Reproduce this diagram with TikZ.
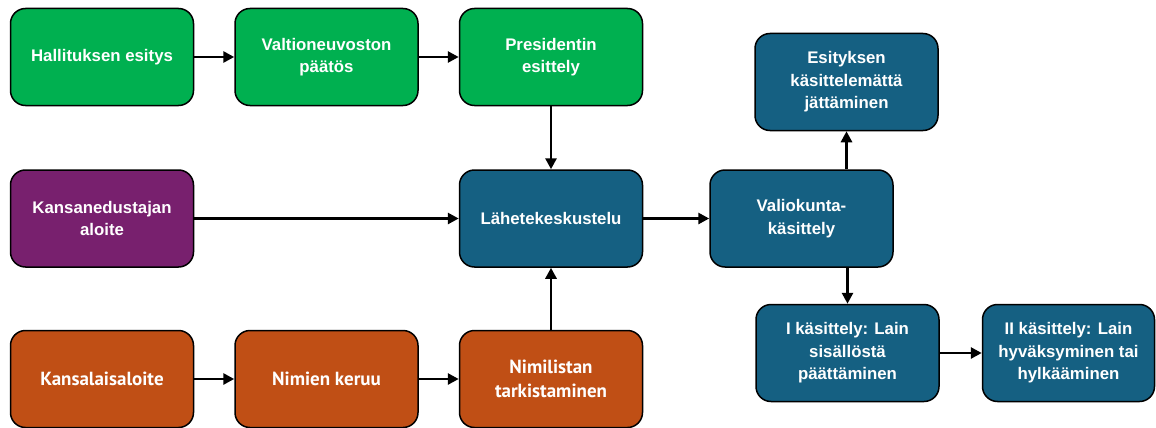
\documentclass[tikz,border=0pt]{standalone}
\usepackage{fontspec}
\setmainfont{Liberation Sans}
\newfontfamily\kapeafont{PT Sans}
\usetikzlibrary{positioning,arrows.meta}
\definecolor{vihrea}{HTML}{00B050}
\definecolor{violetti}{HTML}{78206E}
\definecolor{oranssi}{HTML}{C04F15}
\definecolor{sininen}{HTML}{156082}
\tikzset{
	laatikko/.style={rectangle, rounded corners=15pt, draw=black, line width=1.5pt,
		text=white, font=\bfseries\fontsize{16.8}{22.5}\selectfont,
		minimum width=183pt, minimum height=97pt, align=center},
	hallitus/.style={laatikko, fill=vihrea},
	edustaja/.style={laatikko, fill=violetti},
	kansa/.style={laatikko, fill=oranssi, font=\kapeafont\bfseries\fontsize{19}{24}\selectfont},
	eduskunta/.style={laatikko, fill=sininen},
	nuoli/.style={-{Triangle[length=11pt,width=11pt]}, line width=2.8pt}
}
\begin{document}
\begin{tikzpicture}[node distance=40pt]
			\useasboundingbox (0,0) rectangle (1156pt,-428pt);
			\clip (0,0) rectangle (1156pt,-428pt);
			
			\node[hallitus] (esitys) at (102pt,-57pt) {Hallituksen esitys};
			\node[hallitus, right=of esitys] (paatos) {Valtioneuvoston\\päätös};
			\node[hallitus, right=of paatos] (esittely) {Presidentin\\esittely};
			
			\node[edustaja, below=63pt of esitys] (kansanedustaja) {Kansanedustajan\\aloite};
			\node[eduskunta, below=63pt of esittely] (lahete) {Lähetekeskustelu};
			
			\node[kansa, below=62pt of kansanedustaja] (kansalais) {Kansalaisaloite};
			\node[kansa, right=of kansalais] (keruu) {Nimien keruu};
			\node[kansa, right=of keruu] (tarkistus) {Nimilistan\\tarkistaminen};
			
			\node[eduskunta, right=66pt of lahete] (valiokunta) {Valiokunta-\\käsittely};
			\node[eduskunta, above=38pt of valiokunta, xshift=45pt] (hylkays) {Esityksen\\käsittelemättä\\jättäminen};
			\node[eduskunta, below=36pt of valiokunta, xshift=46pt] (ekakasittely) {I käsittely: Lain\\sisällöstä\\päättäminen};
			\node[eduskunta, right=42pt of ekakasittely, minimum width=172pt] (tokakasittely) {II käsittely: Lain\\hyväksyminen tai\\hylkääminen};
			
			\draw[nuoli] (esitys) -- (paatos);
			\draw[nuoli] (paatos) -- (esittely);
			\draw[nuoli] (esittely) -- (lahete);
			\draw[nuoli] (kansanedustaja) -- (lahete);
			\draw[nuoli] (kansalais) -- (keruu);
			\draw[nuoli] (keruu) -- (tarkistus);
			\draw[nuoli] (tarkistus) -- (lahete);
			\draw[nuoli] (lahete) -- (valiokunta);
			\draw[nuoli] (hylkays.south |- valiokunta.north) -- (hylkays.south);
			\draw[nuoli] (valiokunta.south -| ekakasittely) -- (ekakasittely.north);
			\draw[nuoli] (ekakasittely) -- (tokakasittely);
		\end{tikzpicture}
\end{document}
